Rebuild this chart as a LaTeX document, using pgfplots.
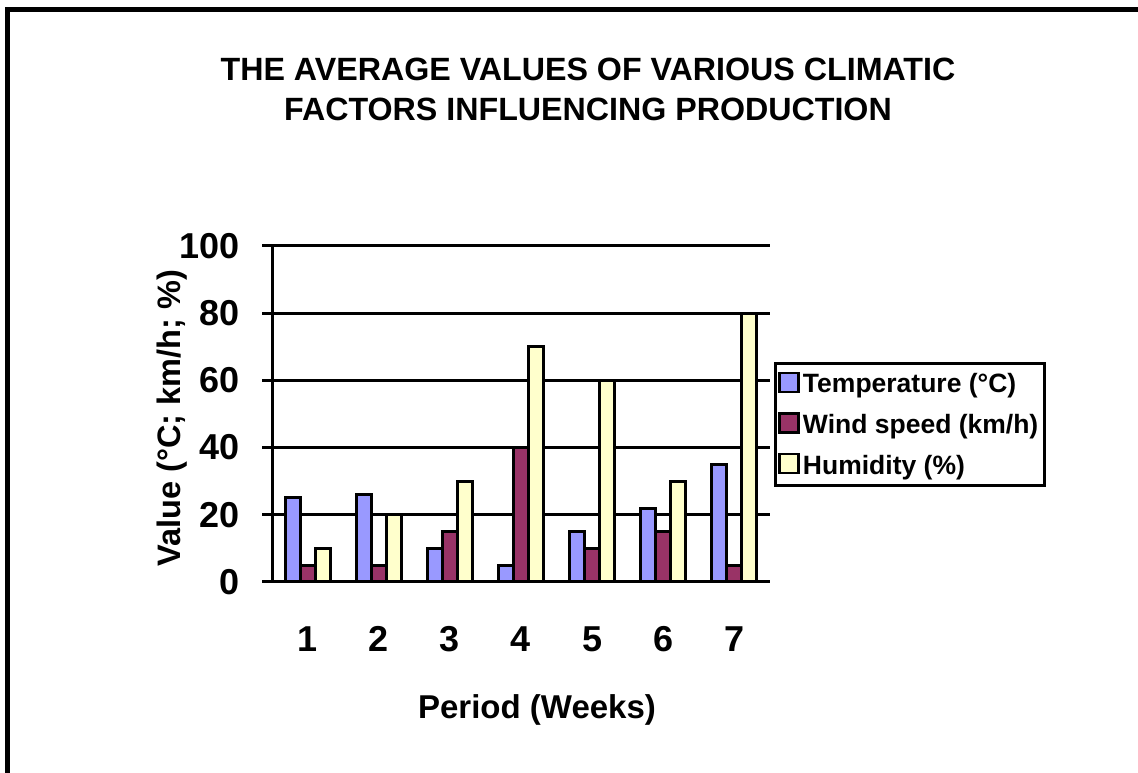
\documentclass[border=0pt]{standalone}
\usepackage{pgfplots}
\pgfplotsset{compat=1.18}
\usepackage{fontspec}
\setmainfont{Liberation Sans}
\definecolor{tempc}{HTML}{9999FF}
\definecolor{windc}{HTML}{993366}
\definecolor{humc}{HTML}{FFFFCC}
\begin{document}
\begin{tikzpicture}[x=1pt,y=1pt]
\path[use as bounding box] (0,0) rectangle (1138,773);
\draw[line width=5pt] (7.5,0) -- (7.5,763.5) -- (1138,763.5);
\node[align=center,font=\fontsize{32.2}{40}\selectfont\bfseries] at (588,684) {THE AVERAGE VALUES OF VARIOUS CLIMATIC\\FACTORS INFLUENCING PRODUCTION};
\begin{axis}[
  at={(272pt,191pt)}, anchor=origin,
  scale only axis, width=498pt, height=336pt,
  xmin=0.5, xmax=7.5, ymin=0, ymax=100,
  axis lines*=left,
  axis line style={line width=3pt},
  xtick={1,...,7},
  major x tick style={draw=none},
  extra x ticks={0.5,1.5,...,7.5},
  extra x tick labels={},
  extra x tick style={major tick length=13pt, tick style={line width=3pt, black, draw=black}, tick align=outside},
  ytick={0,20,...,100},
  ymajorgrids,
  grid style={line width=3pt, black},
  y tick style={line width=3pt, black},
  major tick length=10pt,
  tick align=outside,
  tick label style={font=\fontsize{36}{40}\selectfont\bfseries},
  /pgf/number format/assume math mode=true,
  xticklabel style={yshift=-31pt},
  yticklabel style={xshift=-19pt},
  xlabel={Period (Weeks)},
  ylabel={Value (°C; km/h; \%)},
  xlabel style={font=\fontsize{33}{38}\selectfont\bfseries, yshift=-13pt, xshift=16pt},
  ylabel style={font=\fontsize{32.5}{38}\selectfont\bfseries, yshift=-15pt, xshift=-4pt},
  ybar=0pt, bar width=15pt,
  legend cell align=left,
  legend style={at={(1.008,0.655)}, anchor=north west, draw=black, line width=3pt,
    font=\fontsize{26.5}{30}\selectfont\bfseries, inner xsep=3pt, inner ysep=8pt, row sep=16pt,
    nodes={inner sep=2pt, inner xsep=3pt}},
  legend image code/.code={\draw[#1, line width=2.5pt] (2pt,-8pt) rectangle (21pt,11pt);},
]
\addplot[draw=black, line width=3pt, fill=tempc] coordinates {(1,25) (2,26) (3,10) (4,5) (5,15) (6,22) (7,35)};
\addplot[draw=black, line width=3pt, fill=windc] coordinates {(1,5) (2,5) (3,15) (4,40) (5,10) (6,15) (7,5)};
\addplot[draw=black, line width=3pt, fill=humc] coordinates {(1,10) (2,20) (3,30) (4,70) (5,60) (6,30) (7,80)};
\legend{Temperature (°C)\hspace{25pt}, Wind speed (km/h), Humidity (\%)}
\end{axis}
\end{tikzpicture}
\end{document}
